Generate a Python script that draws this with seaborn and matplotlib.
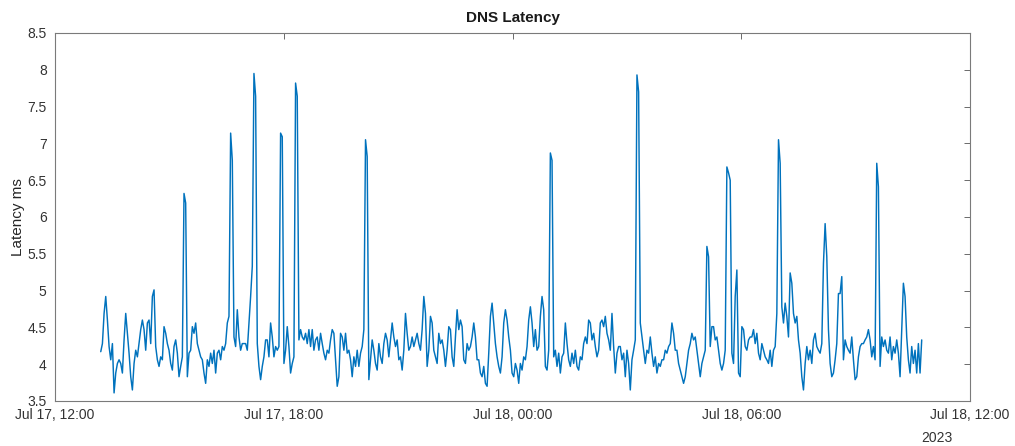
import matplotlib
matplotlib.use("Agg")
import matplotlib.pyplot as plt
import matplotlib.dates as mdates
from matplotlib.ticker import FuncFormatter, MultipleLocator
import pandas as pd
import seaborn as sns

# DNS latency samples (ms), roughly every 2.6 minutes, grouped by part of the day
lat_afternoon = [
    4.17, 4.28, 4.69, 4.92, 4.60, 4.24, 4.06, 4.28, 3.61, 3.88,
    4.01, 4.06, 4.01, 3.88, 4.33, 4.69, 4.42, 4.15, 3.83, 3.65,
    4.01, 4.19, 4.10, 4.28, 4.47, 4.60, 4.47, 4.19, 4.56, 4.60,
    4.28, 4.92, 5.01, 4.24, 4.06, 3.97, 4.10, 4.06, 4.51, 4.42,
    4.28, 4.19, 4.01, 3.92, 4.24, 4.33, 4.15, 3.83, 3.97, 4.10,
    6.32, 6.19, 3.83, 4.15, 4.19, 4.51, 4.42, 4.56, 4.28, 4.19,
    4.10, 4.06, 3.88, 3.74, 4.06, 3.97, 4.15, 4.01, 4.19, 3.88,
    4.15, 4.19, 4.06, 4.24, 4.19, 4.28, 4.56, 4.65, 7.14, 6.77,
    4.37, 4.24, 4.74, 4.37, 4.19, 4.28, 4.28, 4.28, 4.19, 4.56,
    4.92, 5.33, 7.95, 7.64, 4.28, 3.97, 3.79, 3.97, 4.10, 4.33,
    4.33, 4.10, 4.56, 4.37, 4.10, 4.24, 4.19, 4.24, 7.14, 7.09,
    4.01, 4.19, 4.51, 4.24, 3.88, 4.01, 4.10, 7.82, 7.64, 4.33,
    4.47, 4.37, 4.33,
]

lat_evening = [
    4.42, 4.28, 4.47, 4.24, 4.47, 4.19, 4.33, 4.37, 4.19, 4.42,
    4.28, 4.15, 4.06, 4.19, 4.15, 4.33, 4.47, 4.42, 4.06, 3.70,
    3.83, 4.42, 4.37, 4.19, 4.42, 4.15, 4.19, 4.06, 3.83, 4.10,
    3.97, 4.19, 3.97, 4.15, 4.24, 4.47, 7.05, 6.82, 3.79, 4.06,
    4.33, 4.19, 4.01, 3.92, 4.28, 4.10, 4.01, 4.28, 4.42, 4.33,
    4.10, 4.33, 4.56, 4.37, 4.24, 4.33, 4.06, 4.10, 3.92, 4.19,
    4.69, 4.42, 4.19,
    4.24, 4.37, 4.24, 4.33, 4.42, 4.28, 4.19, 4.47, 4.92, 4.69,
    3.97, 4.19, 4.65, 4.56, 4.19, 4.10, 4.01, 4.42, 4.28, 4.33,
    4.19, 3.97, 4.19, 4.51, 4.47, 4.10, 3.97, 4.37, 4.74, 4.47,
    4.60, 4.51, 4.06, 4.01, 4.28, 4.19, 4.24, 4.37, 4.56, 4.37,
    4.06, 4.06, 3.88, 3.83, 3.97, 3.74, 3.70, 4.15, 4.65, 4.83,
    4.56, 4.28, 4.10, 3.97, 3.88, 4.10, 4.56, 4.74, 4.60, 4.37,
    4.19, 3.88, 3.83,
]

lat_night = [
    4.01, 3.92, 3.74, 4.01, 3.92, 4.10, 4.06, 4.24, 4.60, 4.78,
    4.56, 4.24, 4.47, 4.19, 4.24, 4.65, 4.92, 4.74, 3.97, 3.92,
    4.19, 6.87, 6.77, 4.10, 4.19, 3.97, 4.15, 3.88, 4.10, 4.15,
    4.56, 4.28, 4.06, 3.97, 4.15, 4.01, 4.19, 3.97, 3.92, 4.10,
    4.06, 4.28, 4.37, 4.28, 4.60, 4.56, 4.33, 4.42, 4.24, 4.10,
    4.19, 4.56, 4.60, 4.51, 4.65, 4.42, 4.33, 4.19, 4.69, 4.24,
    3.88, 4.15, 4.24,
    4.24, 4.06, 4.15, 3.83, 4.19, 4.01, 3.65, 4.06, 4.19, 4.33,
    7.93, 7.70, 4.56, 4.37, 4.19, 4.01, 4.19, 4.15, 4.37, 4.15,
    3.97, 4.10, 3.88, 4.01, 3.97, 4.06, 4.06, 4.19, 4.15, 4.24,
    4.28, 4.56, 4.42, 4.19, 4.19, 4.01, 3.92, 3.83, 3.74, 3.83,
    4.01, 4.19, 4.28, 4.42, 4.33, 4.37, 4.19, 4.01, 3.83, 4.01,
    4.10, 4.19, 5.60, 5.46, 4.24, 4.51, 4.51, 4.33, 4.37, 4.19,
    4.01, 3.92, 4.01,
]

lat_morning = [
    4.19, 6.68, 6.60, 6.50, 4.15, 4.01, 4.92, 5.28, 3.88, 3.83,
    4.51, 4.47, 4.24, 4.19, 4.33, 4.37, 4.37, 4.47, 4.28, 4.42,
    4.15, 4.06, 4.28, 4.19, 4.10, 4.06, 4.01, 4.19, 3.97, 4.19,
    4.24, 4.69, 7.05, 6.73, 4.78, 4.56, 4.83, 4.65, 4.37, 5.24,
    5.10, 4.69, 4.56, 4.65, 4.33, 4.15, 3.83, 3.65, 4.01, 4.24,
    4.06, 4.19, 4.01, 4.33, 4.42, 4.24, 4.19, 4.15, 4.28, 5.37,
    5.91, 5.46, 4.47,
    4.01, 3.83, 3.88, 4.06, 4.28, 4.96, 4.96, 5.19, 4.06, 4.33,
    4.24, 4.19, 4.15, 4.37, 4.06, 3.79, 3.83, 4.10, 4.24, 4.28,
    4.28, 4.33, 4.37, 4.47, 4.33, 4.10, 4.24, 4.06, 6.73, 6.41,
    3.97, 4.37, 4.24, 4.33, 4.19, 4.15, 4.37, 4.06, 4.24, 4.15,
    4.33, 4.15, 3.83, 4.47, 5.10, 4.92, 4.37, 4.06, 3.88, 4.24,
    4.01, 4.19, 3.88, 4.28, 3.88, 4.33,
]

first_sample = "2023-07-17 13:12"
last_sample = "2023-07-18 10:44"
view_start = "2023-07-17 12:00"
view_end = "2023-07-18 12:00"
y_min, y_max = 3.5, 8.5

latency = lat_afternoon + lat_evening + lat_night + lat_morning
times = pd.date_range(first_sample, last_sample, periods=len(latency))
df = pd.DataFrame({"time": times, "latency": latency})

sns.set_style("white")
plt.rcParams["font.family"] = ["Liberation Sans", "DejaVu Sans"]

W, H = 1015, 446
fig = plt.figure(figsize=(W / 100, H / 100), dpi=100)
ax = fig.add_axes([55 / W, 45 / H, 915 / W, 368 / H])

sns.lineplot(data=df, x="time", y="latency", ax=ax, color="#0072BD",
             linewidth=1.05, legend=False)

ax.set_xlim(pd.Timestamp(view_start), pd.Timestamp(view_end))
ax.set_ylim(y_min, y_max)

ax.xaxis.set_major_locator(mdates.HourLocator(byhour=[0, 6, 12, 18]))
ax.xaxis.set_major_formatter(mdates.DateFormatter("%b %d, %H:%M"))
ax.yaxis.set_major_locator(MultipleLocator(0.5))
ax.yaxis.set_major_formatter(FuncFormatter(lambda v, p: f"{v:g}"))

ax.tick_params(axis="both", direction="in", length=4, width=0.7,
               color="#6a6a6a", labelcolor="#333333", labelsize=10,
               top=True, right=True)
ax.tick_params(axis="x", pad=5)
ax.tick_params(axis="y", pad=6)

for s in ax.spines.values():
    s.set_visible(True)
    s.set_color("#7a7a7a")
    s.set_linewidth(0.8)

ax.set_xlabel("")
ax.set_ylabel("Latency ms", fontsize=11, color="#262626", labelpad=2)
ax.set_title("DNS Latency", fontsize=11, fontweight="bold", color="#1a1a1a", pad=8)

fig.text(921 / W, 1 - 438 / H, "2023", ha="left", va="center",
         fontsize=10, color="#333333")

fig.savefig("out.png", dpi=100)
